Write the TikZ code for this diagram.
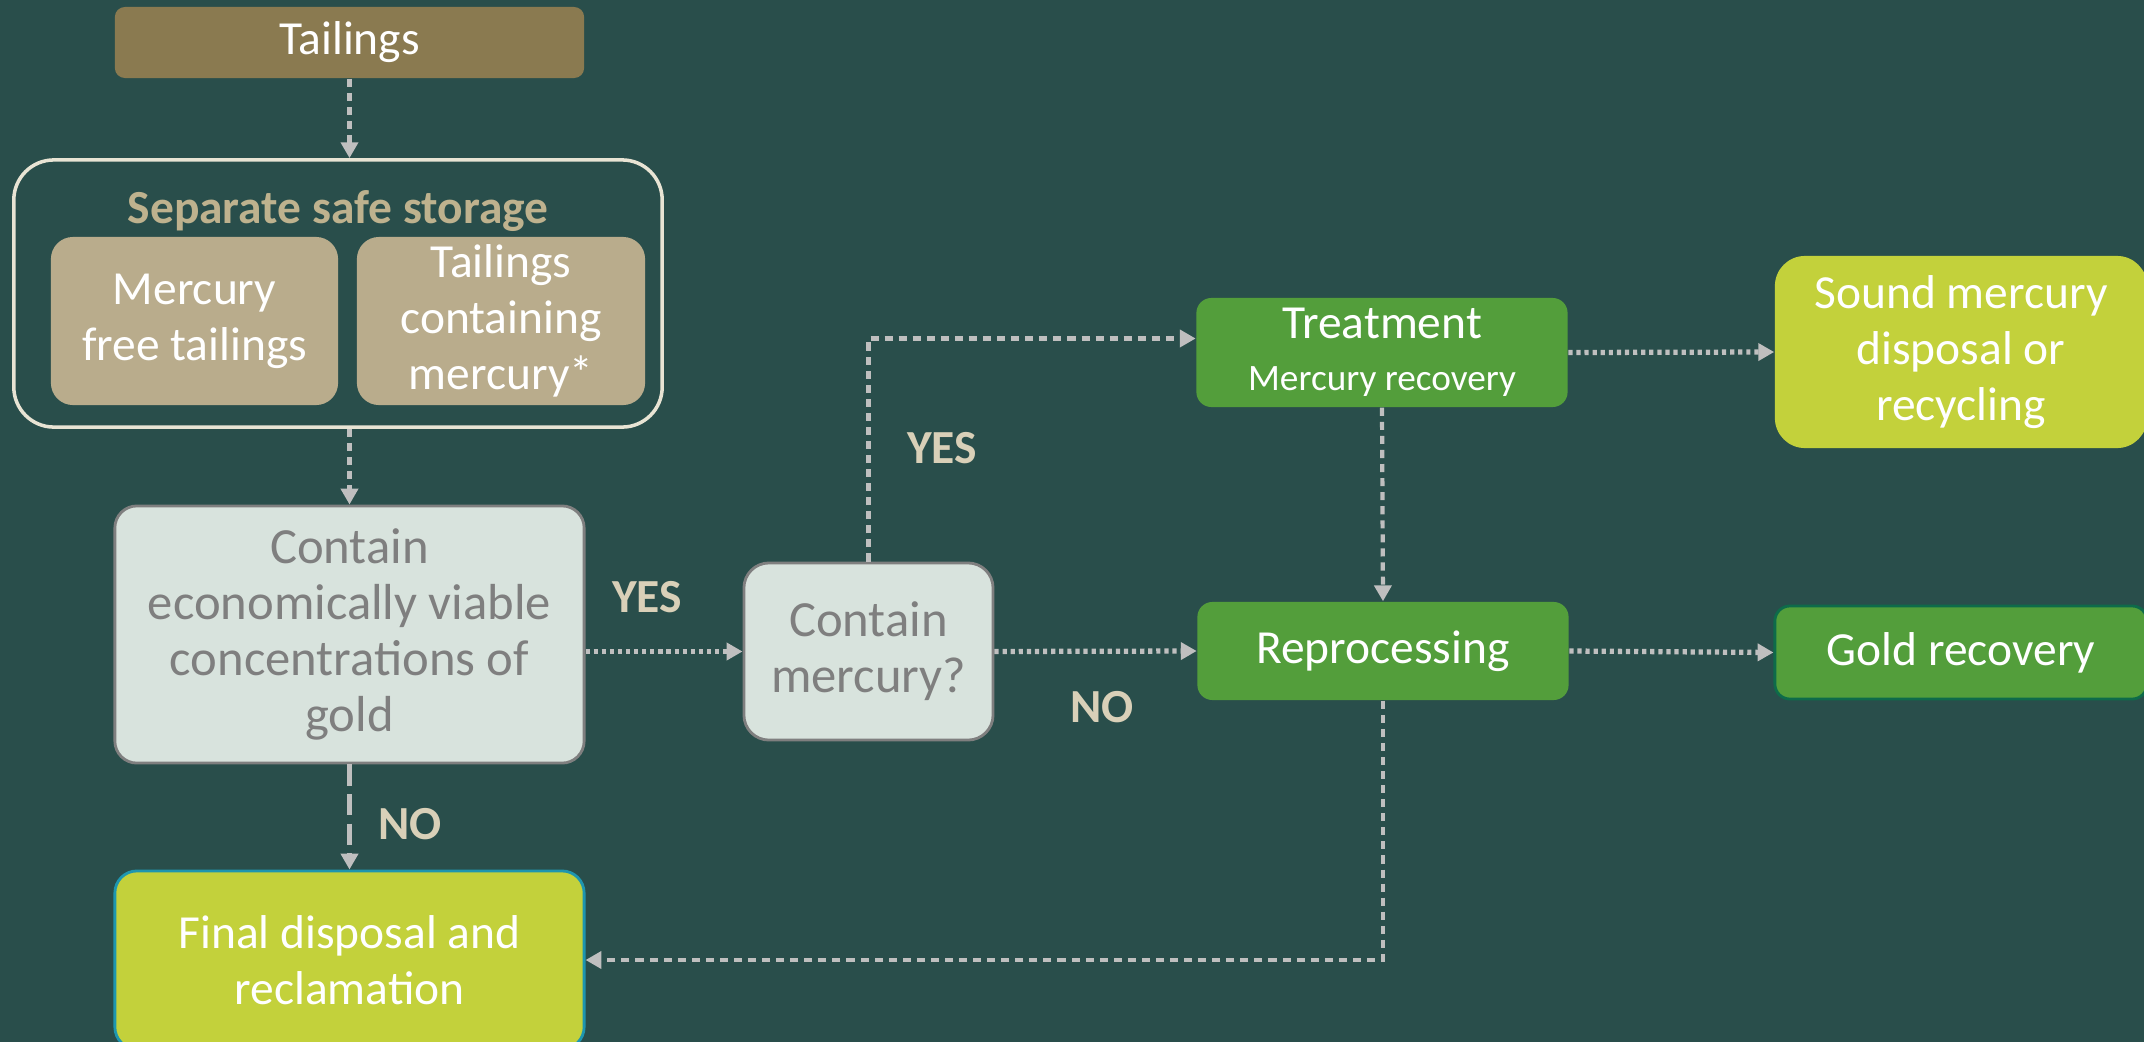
\documentclass[tikz,border=0pt]{standalone}
\usepackage{fontspec}
\setmainfont{Carlito}
\usetikzlibrary{arrows.meta}
\definecolor{bgteal}{RGB}{41,78,75}
\definecolor{tailbrown}{RGB}{138,122,80}
\definecolor{storetan}{RGB}{185,172,140}
\definecolor{storetext}{RGB}{190,178,142}
\definecolor{storeline}{RGB}{232,228,212}
\definecolor{askfill}{RGB}{216,227,221}
\definecolor{askgrey}{RGB}{127,127,127}
\definecolor{labeltan}{RGB}{217,208,184}
\definecolor{arrowgrey}{RGB}{191,191,191}
\definecolor{leafgreen}{RGB}{83,158,59}
\definecolor{limegreen}{RGB}{195,209,59}
\definecolor{finalblue}{RGB}{30,150,175}
\definecolor{golddark}{RGB}{14,107,74}
\tikzstyle{box} = [rectangle, rounded corners=0.22cm, text centered, align=center, inner sep=0pt, text=white, font=\fontsize{13.5}{15.9}\selectfont]
\tikzstyle{tailbox} = [box, fill=tailbrown, minimum width=4.69cm, minimum height=0.71cm, rounded corners=0.1cm]
\tikzstyle{storebox} = [box, fill=storetan, minimum width=2.87cm, minimum height=1.68cm]
\tikzstyle{askbox} = [box, fill=askfill, draw=askgrey, line width=0.8pt, text=askgrey, font=\fontsize{14.4}{15.9}\selectfont]
\tikzstyle{greenbox} = [box, fill=leafgreen, minimum width=3.71cm, rounded corners=0.15cm]
\tikzstyle{limebox} = [box, fill=limegreen, minimum width=3.72cm]
\tikzstyle{answer} = [text=labeltan, font=\fontsize{13.5}{15.9}\selectfont\bfseries]
\tikzstyle{arrow} = [draw=arrowgrey, line width=1.5pt, dash pattern=on 1.2pt off 1.1pt, -{Triangle[length=4.5pt, width=4.8pt]}]
\tikzstyle{varrow} = [arrow, line width=1.2pt, dash pattern=on 2.3pt off 1.7pt]
\tikzstyle{noarrow} = [arrow, line width=1.2pt, dash pattern=on 6pt off 2.4pt]
\begin{document}
\begin{tikzpicture}[x=0.01cm, y=-0.01cm]
  \fill[bgteal] (0,0) rectangle (2144,1042);
  \useasboundingbox (0,0) rectangle (2144,1042);
  % Tailings and storage
  \node (tailings) [tailbox] at (349.5,42.5) {Tailings};
  \node (storage) [rectangle, draw=storeline, line width=1pt, rounded corners=0.4cm, minimum width=6.48cm, minimum height=2.67cm] at (338,293.5) {};
  \node (storetitle) [text=storetext, font=\fontsize{13.5}{15.9}\selectfont\bfseries] at (338,211) {Separate safe storage};
  \node (mfree) [storebox] at (194.5,321) {Mercury\\free tailings};
  \node (mcont) [storebox, minimum width=2.88cm] at (501,321) {Tailings\\containing\\mercury*};
  % Questions
  \node (econ) [askbox, minimum width=4.69cm, minimum height=2.57cm] at (349.5,634.5) {Contain\\economically viable\\concentrations of\\gold};
  \node (hgq) [askbox, minimum width=2.49cm, minimum height=1.77cm, rounded corners=0.25cm] at (868.5,651.5) {Contain\\mercury?};
  % Processing
  \node (treat) [greenbox, minimum height=1.09cm] at (1382,352.5) {Treatment\\[-1pt]{\fontsize{10.6}{12}\selectfont Mercury recovery}};
  \node (reproc) [greenbox, minimum height=0.98cm] at (1383,651) {Reprocessing};
  % Outcomes
  \node (sound) [limebox, minimum height=1.92cm, rounded corners=0.3cm] at (1961,352) {Sound mercury\\disposal or\\recycling};
  \node (goldrec) [greenbox, draw=golddark, line width=0.8pt, minimum width=3.72cm, minimum height=0.93cm] at (1961,652.5) {Gold recovery};
  \node (final) [limebox, draw=finalblue, line width=0.8pt, minimum width=4.69cm, minimum height=1.78cm] at (349.5,960) {Final disposal and\\reclamation};
  % Answers
  \node (yesgold) [answer] at (647,597) {YES};
  \node (nogold) [answer] at (410,824) {NO};
  \node (yeshg) [answer] at (942,448) {YES};
  \node (nohg) [answer] at (1102,707) {NO};
  % Arrows
  \draw [varrow] (tailings.south) -- (tailings.south |- storage.north);
  \draw [varrow] (tailings.south |- storage.south) -- (tailings.south |- econ.north);
  \draw [arrow] (econ.east |- hgq.west) -- (hgq.west);
  \draw [noarrow] (econ.south) -- (final.north);
  \draw [varrow] (hgq.north) |- ([yshift=0.14cm]treat.west);
  \draw [arrow] (hgq.east) -- (reproc.west);
  \draw [arrow] (treat.east) -- (sound.west);
  \draw [varrow] (treat.south) -- (reproc.north);
  \draw [arrow] (reproc.east) -- (goldrec.west);
  \draw [varrow] (reproc.south) |- (final.east);
\end{tikzpicture}
\end{document}
